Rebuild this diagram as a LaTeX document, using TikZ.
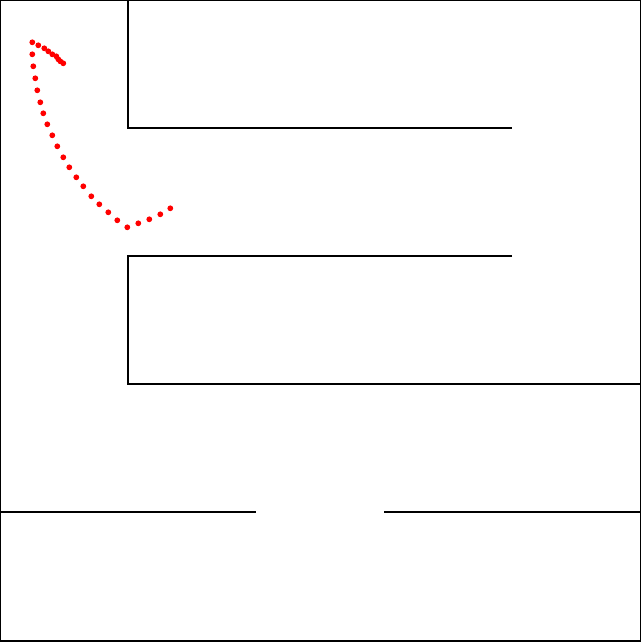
\documentclass[tikz,border=0pt]{standalone}
\begin{document}
\begin{tikzpicture}[x=1pt,y=-1pt,
  wall/.style={draw=black,line width=1.1pt},
  dot/.style={fill=red}]
\useasboundingbox (0,0) rectangle (642,642);
\fill[white] (0,0) rectangle (642,642);
% outer border
\draw[wall] (0.5,0.5) rectangle (640.3,640.3);
\draw[black,line width=1.6pt] (640.5,0) -- (640.5,641.3) -- (0,641.3);
% inner walls
\draw[wall] (128,0) -- (128,128) -- (512,128);
\draw[wall] (512,256) -- (128,256) -- (128,384) -- (640,384);
\draw[wall] (0,512) -- (256,512);
\draw[wall] (384,512) -- (640,512);
% trajectory
\foreach \x/\y in {32.3/42.3,38.3/45.3,44.3/48.3,48.3/51.3,52.3/54.3,56.3/56.3,58.3/59.3,60.3/61.3,63.3/63.3,
  32.3/54.3,33.3/66.3,35.3/78.3,37.3/90.3,40.3/102.3,43.3/113.3,47.3/124.3,52.3/135.3,57.3/146.3,63.3/157.3,
  69.3/167.3,76.3/177.3,83.3/186.3,91.3/196.3,99.3/204.3,108.3/212.3,117.3/220.3,127.3/227.3,138.3/223.3,
  149.3/219.3,160.3/214.3,170.3/208.3}
  \fill[dot] (\x,\y) circle (2.9);
\end{tikzpicture}
\end{document}
